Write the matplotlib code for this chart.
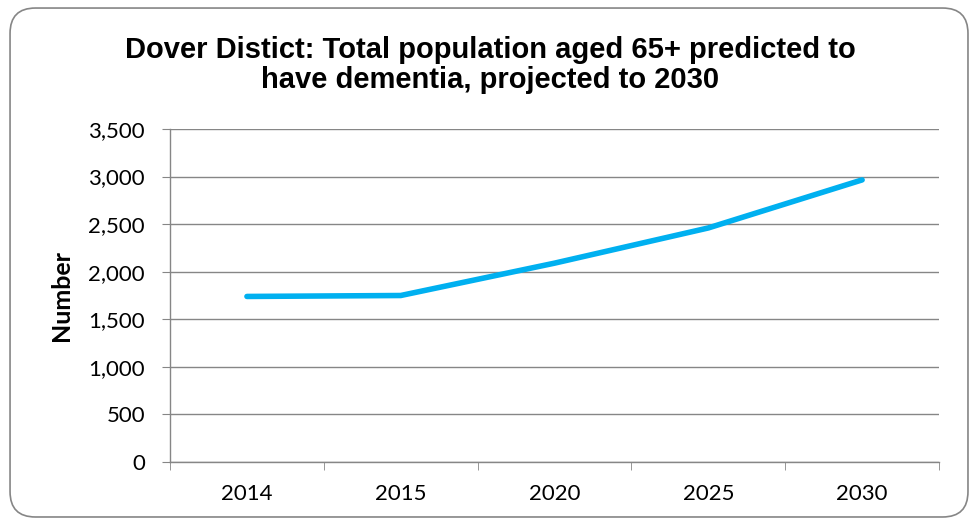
import matplotlib.pyplot as plt
from matplotlib.patches import FancyBboxPatch
from matplotlib.ticker import FuncFormatter, FixedLocator
import numpy as np

years = ['2014', '2015', '2020', '2025', '2030']
dementia_65plus = [1740, 1750, 2090, 2460, 2965]

title = 'Dover Distict: Total population aged 65+ predicted to\nhave dementia, projected to 2030'

def main():
    fig = plt.figure(figsize=(9.75, 5.22), dpi=100)

    # rounded chart border
    border = FancyBboxPatch((0.0103, 0.0096), 0.9825, 0.975,
                            boxstyle='round,pad=0,rounding_size=0.026',
                            transform=fig.transFigure, facecolor='none',
                            edgecolor='#868686', linewidth=1.2,
                            mutation_aspect=975 / 522, zorder=5)
    fig.patches.append(border)

    ax = fig.add_axes([0.1744, 0.1149, 0.7887, 0.638])
    x = np.arange(len(years))
    ax.plot(x, dementia_65plus, color='#00B0F0', linewidth=4.0,
            solid_capstyle='round', solid_joinstyle='round', zorder=3)

    ax.set_xlim(-0.5, len(years) - 0.5)
    ax.set_ylim(0, 3500)
    ax.set_yticks(range(0, 3501, 500))
    ax.yaxis.set_major_formatter(FuncFormatter(lambda v, p: f'{int(v):,}'))
    ax.set_xticks(x)
    ax.set_xticklabels(years)
    ax.xaxis.set_minor_locator(FixedLocator(np.arange(-0.5, len(years), 1)))

    ax.grid(axis='y', color='#868686', linewidth=1.0)
    ax.set_axisbelow(True)
    for s in ['top', 'right']:
        ax.spines[s].set_visible(False)
    for s in ['left', 'bottom']:
        ax.spines[s].set_color('#868686')
        ax.spines[s].set_linewidth(1.0)

    ax.tick_params(axis='y', which='major', direction='out', length=6,
                   color='#868686', labelsize=16, pad=12)
    ax.tick_params(axis='x', which='major', length=0, labelsize=16, pad=16)
    ax.tick_params(axis='x', which='minor', direction='out', length=6,
                   color='#868686')
    for lab in ax.get_xticklabels() + ax.get_yticklabels():
        lab.set_fontfamily('Lato')

    ax.set_ylabel('Number', fontsize=18, fontweight='bold',
                  fontfamily='Lato', labelpad=11)

    fig.text(0.503, 0.875, title, ha='center', va='center', fontsize=21,
             fontweight='bold', fontfamily='Liberation Sans', linespacing=1.1)

    fig.savefig('out.png', dpi=100)

if __name__ == '__main__':
    main()
